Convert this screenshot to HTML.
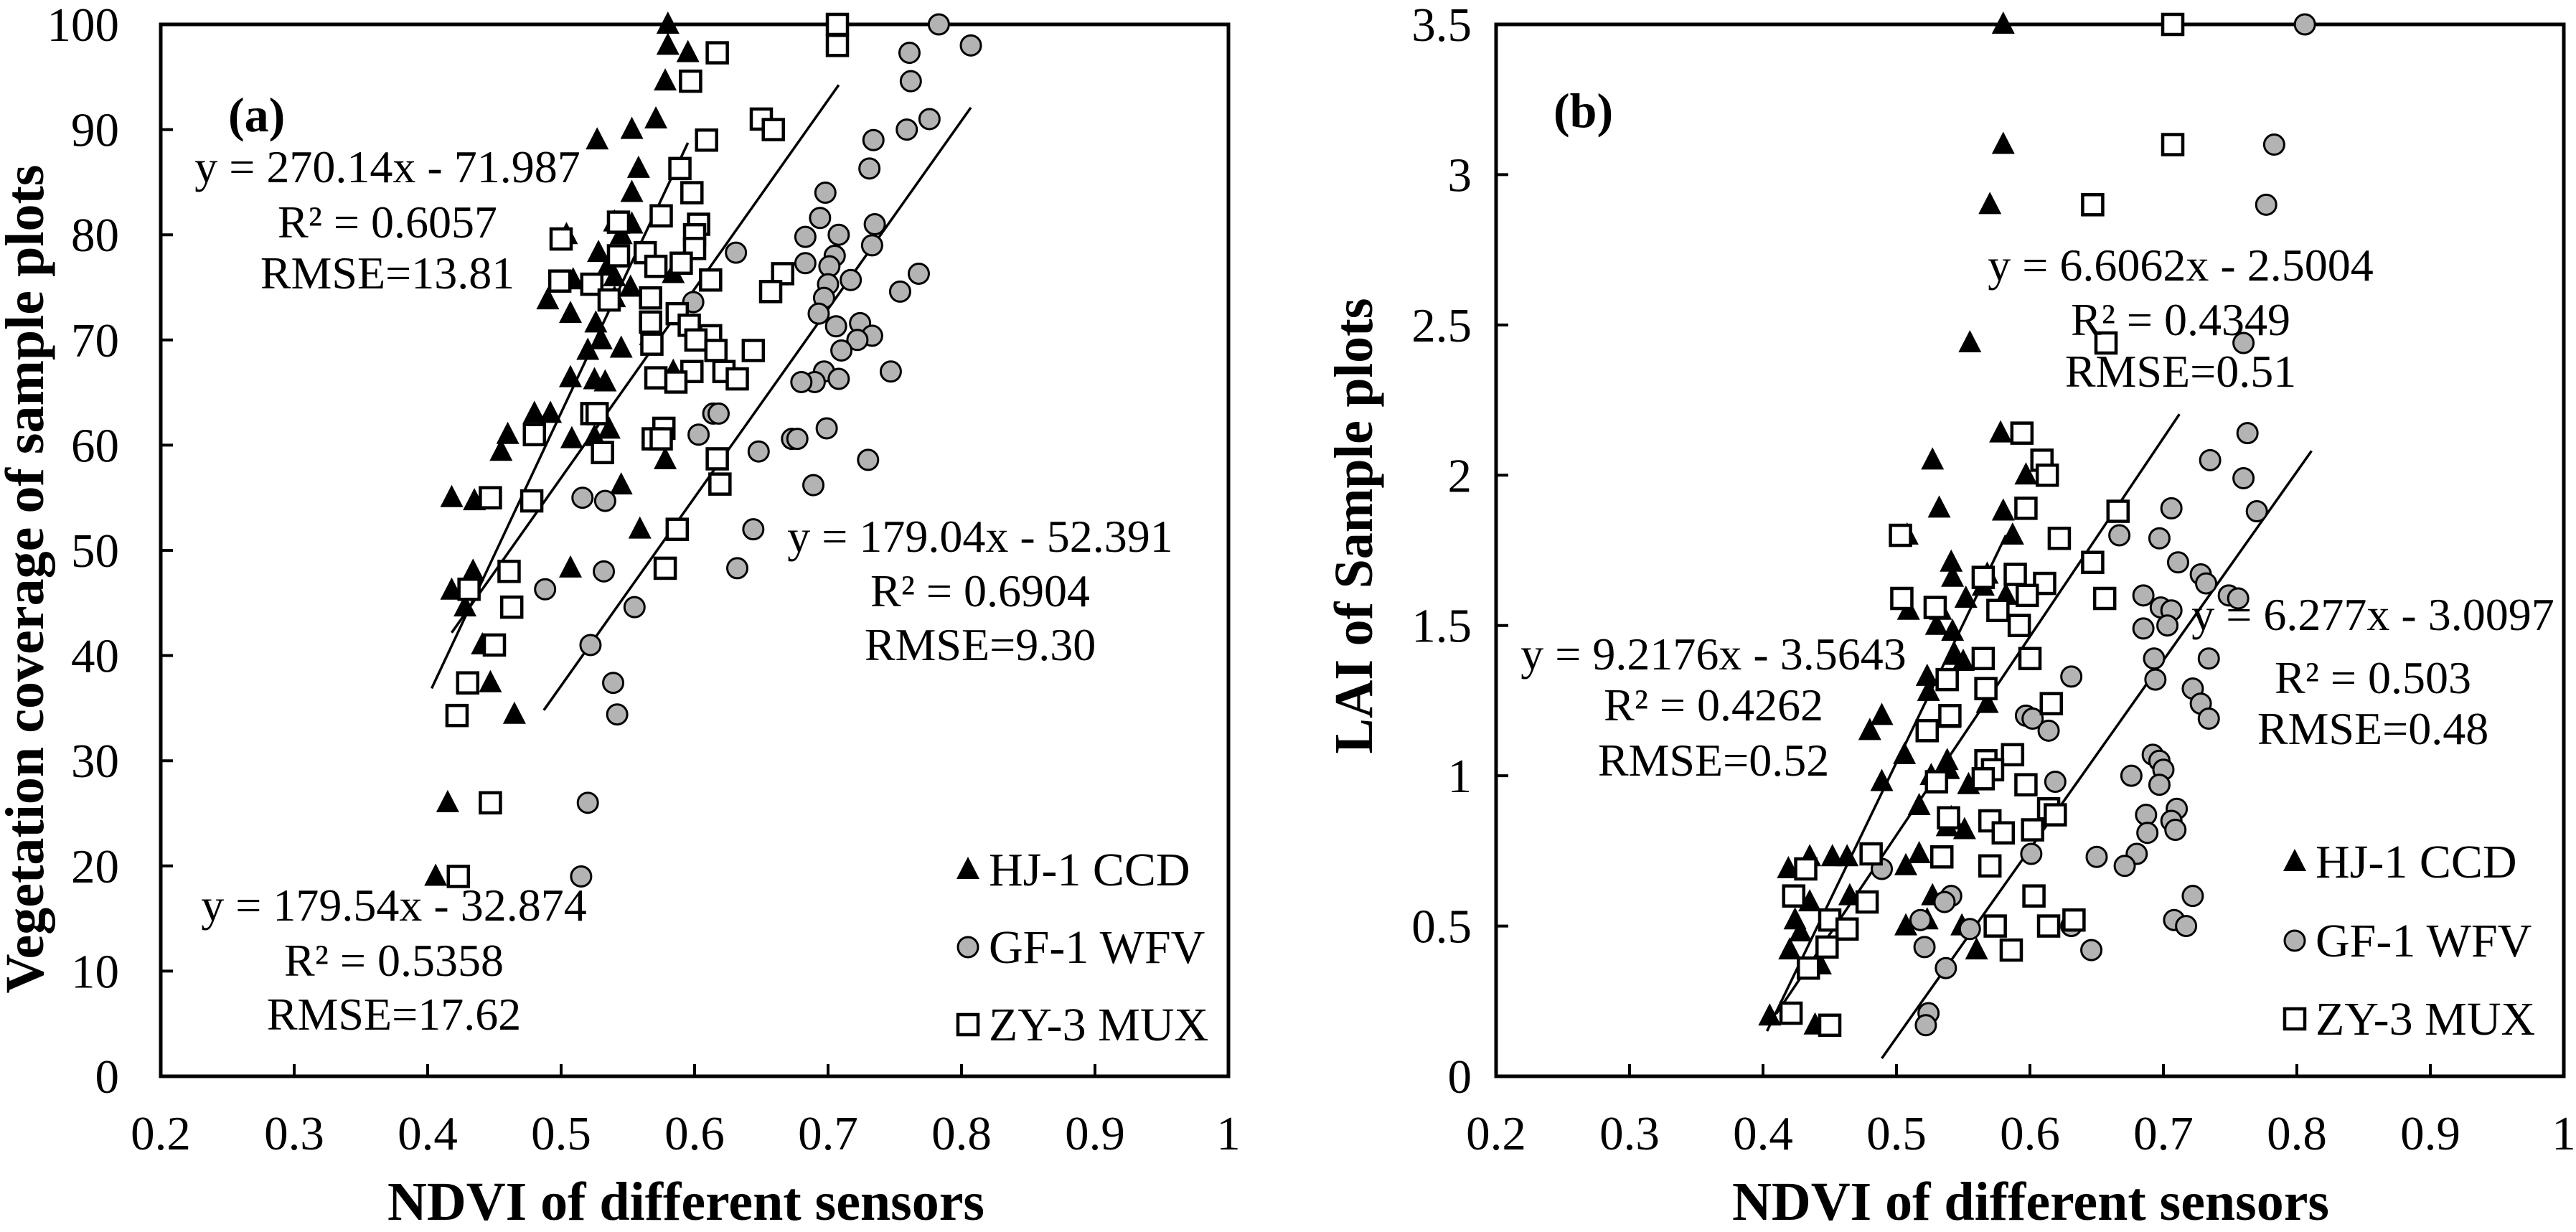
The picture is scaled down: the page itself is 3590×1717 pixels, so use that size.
<!DOCTYPE html>
<html><head><meta charset="utf-8"><style>
html,body{margin:0;padding:0;background:#fff;}
svg{display:block;font-family:"Liberation Serif",serif;}
</style></head><body>
<svg id="chart" width="3590" height="1717" viewBox="0 0 3590 1717" xmlns="http://www.w3.org/2000/svg"></svg>
<script>
const xTicks = [0.2,0.3,0.4,0.5,0.6,0.7,0.8,0.9,1];
const xTickLabels = ["0.2","0.3","0.4","0.5","0.6","0.7","0.8","0.9","1"];
const yTicksA = [0,10,20,30,40,50,60,70,80,90,100];
const yTickLabelsA = ["0","10","20","30","40","50","60","70","80","90","100"];
const yTicksB = [0,0.5,1,1.5,2,2.5,3,3.5];
const yTickLabelsB = ["0","0.5","1","1.5","2","2.5","3","3.5"];
const seriesNames = ["HJ-1 CCD","GF-1 WFV","ZY-3 MUX"];

const hjA = [[0.580,100],[0.580,98],[0.595,97.3],[0.578,94.6],[0.571,91],[0.553,90],[0.527,89],[0.558,86.3],[0.553,84],[0.540,81.2],[0.553,81],[0.545,80],[0.504,80],[0.528,78.3],[0.535,77],[0.540,76],[0.584,76.3],[0.509,75.7],[0.552,75],[0.540,74],[0.490,73.8],[0.507,72.5],[0.526,71.6],[0.530,70],[0.520,69],[0.545,69.2],[0.567,70.4],[0.507,66.4],[0.525,66.2],[0.533,66],[0.584,67],[0.480,63],[0.492,63],[0.536,61.5],[0.460,61],[0.508,60.6],[0.525,60.8],[0.455,59.4],[0.578,58.6],[0.418,55],[0.435,54.7],[0.545,56.2],[0.559,52],[0.507,48.3],[0.434,48],[0.418,46.2],[0.428,44.6],[0.441,41],[0.447,37.4],[0.465,34.4],[0.415,26],[0.406,19]];
const gfA = [[0.783,100],[0.807,98],[0.761,97.3],[0.762,94.6],[0.776,91],[0.759,90],[0.734,89],[0.731,86.3],[0.698,84],[0.694,81.6],[0.735,81],[0.708,80],[0.683,79.8],[0.733,79],[0.631,78.3],[0.705,78],[0.683,77.3],[0.701,77],[0.768,76.3],[0.717,75.7],[0.700,75.3],[0.754,74.6],[0.599,73.6],[0.697,74],[0.693,72.5],[0.706,71.3],[0.724,71.6],[0.733,70.4],[0.722,70],[0.710,69],[0.747,67],[0.697,67],[0.690,66],[0.680,66],[0.708,66.3],[0.614,63],[0.618,63],[0.699,61.6],[0.603,61],[0.673,60.6],[0.677,60.6],[0.648,59.4],[0.730,58.6],[0.689,56.2],[0.516,55],[0.533,54.7],[0.644,52],[0.532,48],[0.632,48.3],[0.488,46.3],[0.555,44.6],[0.522,41],[0.539,37.4],[0.542,34.4],[0.520,26],[0.515,19]];
const zyA = [[0.707,100],[0.707,98],[0.617,97.3],[0.597,94.6],[0.650,91],[0.659,90],[0.609,89],[0.589,86.3],[0.598,84],[0.543,81.2],[0.575,81.8],[0.603,81],[0.600,80],[0.500,79.6],[0.600,78.7],[0.563,78.3],[0.543,78],[0.590,77.3],[0.571,77],[0.666,76.3],[0.499,75.6],[0.523,75.3],[0.612,75.7],[0.657,74.6],[0.567,74],[0.536,73.8],[0.587,72.5],[0.567,71.7],[0.596,71.4],[0.612,70.4],[0.601,70],[0.568,69.6],[0.644,69],[0.616,69],[0.622,67],[0.598,67],[0.632,66.3],[0.571,66.4],[0.586,66],[0.523,63],[0.527,63],[0.577,61.6],[0.480,61],[0.569,60.6],[0.575,60.6],[0.531,59.3],[0.617,58.7],[0.619,56.3],[0.447,55],[0.478,54.7],[0.587,52],[0.578,48.3],[0.431,46.3],[0.461,48],[0.463,44.6],[0.450,41],[0.430,37.4],[0.422,34.3],[0.447,26],[0.423,19]];

const hjB = [[0.580,3.5],[0.580,3.1],[0.570,2.9],[0.555,2.44],[0.578,2.14],[0.527,2.05],[0.597,2.0],[0.532,1.89],[0.580,1.88],[0.508,1.8],[0.587,1.8],[0.509,1.55],[0.541,1.71],[0.568,1.67],[0.542,1.66],[0.565,1.63],[0.552,1.59],[0.582,1.6],[0.533,1.55],[0.530,1.5],[0.542,1.48],[0.544,1.4],[0.550,1.38],[0.523,1.33],[0.524,1.28],[0.568,1.24],[0.489,1.2],[0.480,1.15],[0.540,1.19],[0.506,1.07],[0.538,1.05],[0.539,1.02],[0.526,1.0],[0.554,0.97],[0.489,0.98],[0.517,0.9],[0.541,0.86],[0.538,0.83],[0.551,0.82],[0.517,0.74],[0.507,0.7],[0.452,0.73],[0.463,0.73],[0.435,0.73],[0.419,0.69],[0.465,0.6],[0.527,0.6],[0.435,0.58],[0.424,0.52],[0.428,0.48],[0.507,0.5],[0.523,0.52],[0.549,0.5],[0.420,0.42],[0.443,0.37],[0.560,0.42],[0.439,0.17],[0.405,0.2]];
const gfB = [[0.806,3.5],[0.783,3.1],[0.777,2.9],[0.760,2.44],[0.763,2.14],[0.735,2.05],[0.760,1.99],[0.706,1.89],[0.770,1.88],[0.667,1.8],[0.697,1.79],[0.711,1.71],[0.728,1.67],[0.732,1.64],[0.749,1.6],[0.756,1.59],[0.685,1.6],[0.698,1.56],[0.706,1.55],[0.703,1.5],[0.685,1.49],[0.693,1.39],[0.734,1.39],[0.694,1.32],[0.631,1.33],[0.722,1.29],[0.728,1.24],[0.734,1.19],[0.597,1.2],[0.602,1.19],[0.614,1.15],[0.692,1.07],[0.697,1.05],[0.700,1.02],[0.676,1.0],[0.619,0.98],[0.697,0.97],[0.710,0.89],[0.687,0.87],[0.706,0.85],[0.688,0.81],[0.709,0.82],[0.601,0.74],[0.650,0.73],[0.680,0.74],[0.671,0.7],[0.489,0.69],[0.541,0.6],[0.536,0.58],[0.722,0.6],[0.518,0.52],[0.708,0.52],[0.717,0.5],[0.631,0.5],[0.555,0.49],[0.521,0.43],[0.646,0.42],[0.537,0.36],[0.524,0.21],[0.522,0.17]];
const zyB = [[0.707,3.5],[0.707,3.1],[0.647,2.9],[0.657,2.44],[0.594,2.14],[0.609,2.05],[0.613,2.0],[0.597,1.89],[0.666,1.88],[0.503,1.8],[0.622,1.79],[0.647,1.71],[0.589,1.67],[0.565,1.66],[0.611,1.64],[0.576,1.55],[0.598,1.6],[0.656,1.59],[0.504,1.59],[0.529,1.56],[0.592,1.5],[0.600,1.39],[0.565,1.39],[0.538,1.32],[0.567,1.29],[0.616,1.24],[0.540,1.2],[0.523,1.15],[0.587,1.07],[0.567,1.05],[0.572,1.02],[0.565,0.99],[0.597,0.97],[0.530,0.98],[0.614,0.89],[0.619,0.87],[0.570,0.85],[0.539,0.86],[0.580,0.81],[0.602,0.82],[0.534,0.73],[0.481,0.74],[0.570,0.7],[0.432,0.69],[0.603,0.6],[0.423,0.6],[0.478,0.58],[0.450,0.52],[0.633,0.52],[0.614,0.5],[0.574,0.5],[0.463,0.49],[0.586,0.42],[0.448,0.43],[0.434,0.36],[0.421,0.21],[0.450,0.17]];

// trend lines: [slope, intercept, xStart, xEnd]
const fitsA = [[270.14,-71.987,0.403,0.595],[179.04,-52.391,0.487,0.807],[179.54,-32.874,0.418,0.708]];
const fitsB = [[9.2176,-3.5643,0.403,0.582],[6.277,-3.0097,0.489,0.811],[6.6062,-2.5004,0.41,0.712]];

const NS = "http://www.w3.org/2000/svg";
const svg = document.getElementById("chart");
function mk(tag, attrs, parent){
  const e = document.createElementNS(NS, tag);
  for (const k in attrs) e.setAttribute(k, attrs[k]);
  (parent||svg).appendChild(e);
  return e;
}
function txt(parent, s, x, y, size, anchor, bold, extra){
  const t = mk("text", {x:x, y:y, "font-size":size, "text-anchor":anchor||"start", fill:"#000"}, parent);
  if (bold) t.setAttribute("font-weight","bold");
  if (extra) for (const k in extra) t.setAttribute(k, extra[k]);
  t.textContent = s;
  return t;
}
function marker(g, kind, px, py){
  let m;
  if (kind===0){
    m = mk("polygon", {points:(px)+","+(py-18)+" "+(px-16)+","+(py+13)+" "+(px+16)+","+(py+13), fill:"#000"}, g);
  } else if (kind===1){
    m = mk("circle", {cx:px, cy:py, r:14, fill:"#b3b3b3", stroke:"#000", "stroke-width":3}, g);
  } else {
    m = mk("rect", {x:px-14, y:py-14, width:28, height:28, fill:"#fff", stroke:"#000", "stroke-width":4.5}, g);
  }
  return m;
}

function panel(cfg){
  const g = mk("g", {});
  
  
  const L=cfg.left, R=cfg.right, T=34, B=1500;
  const sx = v => L + (v-0.2)/0.8*(R-L);
  const sy = v => B - v/cfg.ymax*(B-T);
  const fr = mk("rect", {x:L, y:T, width:R-L, height:B-T, fill:"none", stroke:"#000", "stroke-width":5}, g);
  
  
  xTicks.forEach((v,i)=>{
    const x = sx(v);
    const tk = mk("line", {x1:x, y1:B, x2:x, y2:B-17, stroke:"#000", "stroke-width":4}, g);
    
    
    const lb = txt(g, xTickLabels[i], x, 1602, 67, "middle");
    
    
  });
  cfg.yTicks.forEach((v,i)=>{
    const y = sy(v);
    const tk = mk("line", {x1:L, y1:y, x2:L+17, y2:y, stroke:"#000", "stroke-width":4}, g);
    
    
    const lb = txt(g, cfg.yLabels[i], cfg.yLabelX, y+23, 67, "end");
    
    
  });
  cfg.fits.forEach((f,i)=>{
    const ln = mk("line", {x1:sx(f[2]), y1:sy(f[0]*f[2]+f[1]), x2:sx(f[3]), y2:sy(f[0]*f[3]+f[1]), stroke:"#000", "stroke-width":3.5}, g);
    
    
  });
  cfg.series.forEach((arr,k)=>{
    const sg = mk("g", {}, g);
    
    
    arr.forEach(p=>{
      const m = marker(sg, k, sx(p[0]), sy(p[1]));
      
      
    });
  });
  const pl = txt(g, cfg.label, cfg.labelPos[0], cfg.labelPos[1], 68, "start", true);
  
  
  cfg.eqs.forEach(eq=>{
    eq.lines.forEach((s,j)=>{
      const t = txt(g, s, eq.x, eq.y[j], 64, "middle");
      
      
    });
  });
  const lg = mk("g", {}, g);
  
  
  seriesNames.forEach((n,k)=>{
    const by = cfg.legend.y[k];
    const m = marker(lg, k, cfg.legend.mx, by-22);
    
    
    const t = txt(lg, n, cfg.legend.tx, by, 66, "start");
    
    
  });
  const xt = txt(g, "NDVI of different  sensors", cfg.xTitleX, 1700, 76, "middle", true, {"textLength":832, "lengthAdjust":"spacingAndGlyphs", "xml:space":"preserve"});
  
  
  const yt = txt(g, cfg.yTitle, 0, 0, 76, "middle", true, {"transform":"translate("+cfg.yTitlePos[0]+","+cfg.yTitlePos[1]+") rotate(-90)", "textLength":cfg.yTitleLen, "lengthAdjust":"spacingAndGlyphs", "xml:space":"preserve"});
  
  
}

panel({name:"panel-a-vegetation-coverage", left:224, right:1712, ymax:100, yTicks:yTicksA, yLabels:yTickLabelsA, yLabelX:166,
  fits:fitsA, series:[hjA,gfA,zyA], label:"(a)", labelPos:[318,183],
  eqs:[{x:540, y:[254,331,402], lines:["y = 270.14x - 71.987","R² = 0.6057","RMSE=13.81"]},
       {x:1366, y:[769,845,920], lines:["y = 179.04x - 52.391","R² = 0.6904","RMSE=9.30"]},
       {x:549, y:[1283,1360,1435], lines:["y = 179.54x - 32.874","R² = 0.5358","RMSE=17.62"]}],
  legend:{mx:1349, tx:1378, y:[1234,1342,1450]},
  xTitleX:956, yTitle:"Vegetation coverage of sample  plots", yTitlePos:[60,807], yTitleLen:1155});

panel({name:"panel-b-lai", left:2085, right:3573, ymax:3.5, yTicks:yTicksB, yLabels:yTickLabelsB, yLabelX:2051,
  fits:fitsB, series:[hjB,gfB,zyB], label:"(b)", labelPos:[2165,177],
  eqs:[{x:3039, y:[391,467,539], lines:["y = 6.6062x - 2.5004","R² = 0.4349","RMSE=0.51"]},
       {x:2388, y:[933,1004,1081], lines:["y = 9.2176x - 3.5643","R² = 0.4262","RMSE=0.52"]},
       {x:3307, y:[878,966,1037], lines:["y = 6.277x - 3.0097","R² = 0.503","RMSE=0.48"]}],
  legend:{mx:3198, tx:3227, y:[1223,1333,1442]},
  xTitleX:2830, yTitle:"LAI of Sample plots", yTitlePos:[1912,733], yTitleLen:635});
</script>
</body></html>
